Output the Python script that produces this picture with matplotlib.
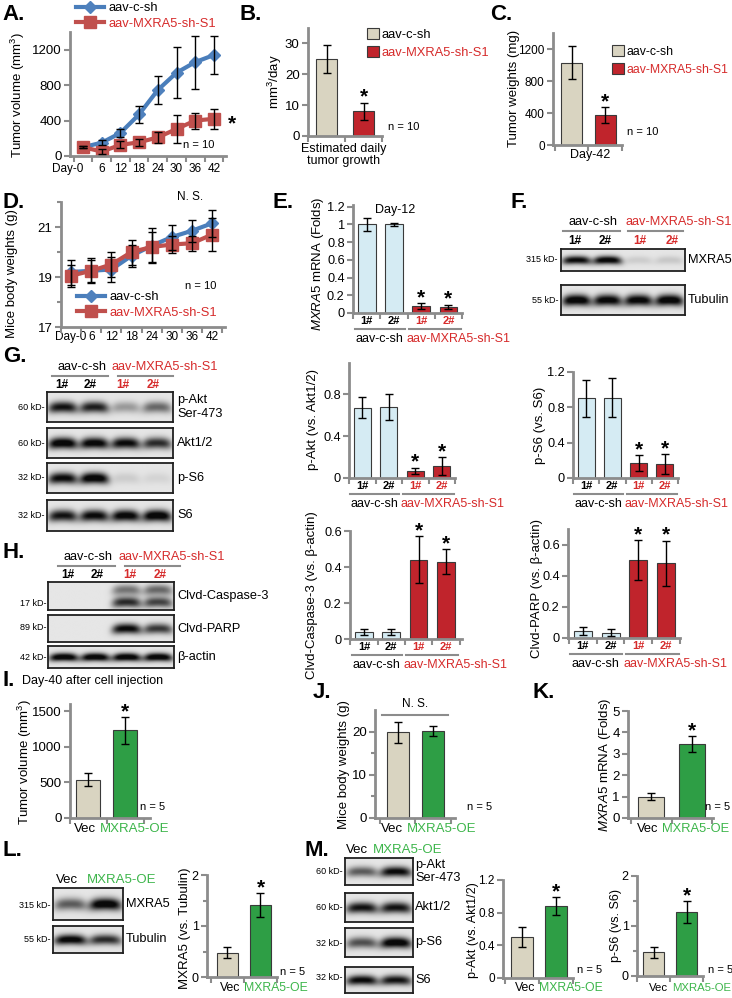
import numpy as np
import matplotlib
matplotlib.use("Agg")
import matplotlib.pyplot as plt
from matplotlib.lines import Line2D
from matplotlib.ticker import FuncFormatter
from matplotlib.transforms import blended_transform_factory

plt.rcParams["font.family"] = ["Liberation Sans", "DejaVu Sans"]
plt.rcParams["mathtext.fontset"] = "custom"
plt.rcParams["mathtext.rm"] = "Liberation Sans"
plt.rcParams["mathtext.it"] = "Liberation Sans:italic"

# ---- data -----------------------------------------------------------------
days = ["Day-0", "6", "12", "18", "24", "30", "36", "42"]
vol_ctrl = [100, 150, 260, 470, 745, 940, 1060, 1140]
vol_ctrl_err = [15, 30, 50, 95, 155, 290, 300, 210]
vol_kd = [100, 50, 125, 155, 210, 305, 400, 420]
vol_kd_err = [15, 25, 40, 40, 60, 160, 90, 115]

growth = [25.0, 8.0]
growth_err = [4.6, 2.8]
tumor_wt = [1030, 375]
tumor_wt_err = [205, 100]

bw_ctrl = [19.2, 19.25, 19.3, 19.85, 20.25, 20.6, 20.85, 21.15]
bw_ctrl_err = [0.5, 0.45, 0.5, 0.45, 0.7, 0.5, 0.45, 0.55]
bw_kd = [19.05, 19.25, 19.5, 20.0, 20.2, 20.3, 20.35, 20.7]
bw_kd_err = [0.45, 0.5, 0.5, 0.5, 0.6, 0.35, 0.3, 0.65]

lanes4 = ["1#", "2#", "1#", "2#"]
mrna = [1.0, 1.0, 0.08, 0.07]
mrna_err = [0.07, 0.02, 0.03, 0.025]
pakt = [0.67, 0.68, 0.07, 0.115]
pakt_err = [0.1, 0.125, 0.03, 0.085]
ps6 = [0.90, 0.91, 0.17, 0.16]
ps6_err = [0.21, 0.22, 0.09, 0.11]
casp = [0.04, 0.04, 0.44, 0.43]
casp_err = [0.015, 0.015, 0.13, 0.07]
parp = [0.045, 0.035, 0.50, 0.48]
parp_err = [0.025, 0.025, 0.13, 0.145]

oe_groups = ["Vec", "MXRA5-OE"]
oe_vol = [540, 1230]
oe_vol_err = [85, 190]
oe_bw = [19.8, 20.2]
oe_bw_err = [2.5, 1.2]
oe_mrna = [1.0, 3.45]
oe_mrna_err = [0.17, 0.37]
oe_mxra5 = [0.48, 1.41]
oe_mxra5_err = [0.1, 0.24]
oe_pakt = [0.50, 0.88]
oe_pakt_err = [0.12, 0.11]
oe_ps6 = [0.48, 1.28]
oe_ps6_err = [0.11, 0.22]

# blot band strengths per lane (0 = none, 1 = saturated)
blot_f_mxra5 = [0.9, 0.95, 0.1, 0.12]
blot_f_tub = [1.0, 0.95, 0.95, 1.0]
blot_g_pakt = [0.85, 0.8, 0.3, 0.5]
blot_g_akt = [1.0, 0.95, 0.9, 0.75]
blot_g_ps6 = [0.9, 1.0, 0.1, 0.07]
blot_g_s6 = [0.85, 0.9, 0.95, 1.0]
blot_h_casp_hi = [0.0, 0.0, 0.45, 0.5]
blot_h_casp_lo = [0.0, 0.0, 0.75, 0.65]
blot_h_parp = [0.0, 0.0, 0.9, 0.7]
blot_h_actin = [1.0, 1.0, 1.0, 1.0]
blot_l_mxra5 = [0.55, 1.0]
blot_l_tub = [0.95, 0.75]
blot_m_pakt = [0.55, 0.9]
blot_m_akt = [0.85, 0.85]
blot_m_ps6 = [0.6, 1.0]
blot_m_s6 = [0.9, 0.85]

# ---- theme ----------------------------------------------------------------
AXIS = "#8c8c8c"
BEIGE = "#d9d4c1"
DRED = "#c0242c"
LBLUE = "#d5ebf3"
GREEN = "#2e9e45"
RED_T = "#d62b2b"
GREEN_T = "#3cb54a"
LBLUE_LINE = "#4a7ebb"
LRED_LINE = "#c0504d"

W, H = 732, 998
fig = plt.figure(figsize=(W / 100, H / 100), dpi=100)


def px_axes(l, t, r, b):
    return fig.add_axes([l / W, 1 - b / H, (r - l) / W, (b - t) / H])


def ftext(x, y, s, **kw):
    kw.setdefault("ha", "left")
    kw.setdefault("va", "center")
    return fig.text(x / W, 1 - y / H, s, **kw)


def fline(x0, x1, y, color=AXIS, lw=1.5):
    fig.add_artist(Line2D([x0 / W, x1 / W], [1 - y / H] * 2, color=color, lw=lw))


def style_axes(ax, tick_size=9.5):
    for s in ("top", "right"):
        ax.spines[s].set_visible(False)
    for s in ("left", "bottom"):
        ax.spines[s].set_color(AXIS)
        ax.spines[s].set_linewidth(2)
    ax.tick_params(axis="y", which="both", direction="out", color=AXIS,
                   width=1.5, length=4, labelsize=tick_size, pad=2)
    ax.tick_params(axis="y", which="minor", length=3)
    ax.yaxis.set_major_formatter(FuncFormatter(lambda v, p: f"{v:g}"))
    ax.patch.set_alpha(0)


def cat_xlim(ax, box, c0, c1):
    sp = c1 - c0
    ax.set_xlim((box[0] - c0) / sp, (box[2] - c0) / sp)


def star(ax, x, y, dy=-3):
    ax.annotate("*", (x, y), xytext=(0, dy), textcoords="offset points",
                ha="center", va="bottom", fontsize=15, fontweight="bold",
                annotation_clip=False)


def bar_panel(box, c0, c1, vals, errs, colors, ylim, yticks, minor=None,
              width=0.65, labels=None, label_colors=None, label_size=9,
              stars=(), tick_size=9.5):
    ax = px_axes(*box)
    style_axes(ax, tick_size)
    x = np.arange(len(vals))
    ax.bar(x, vals, width=width, color=colors, edgecolor="#3a3a3a",
           linewidth=0.8, zorder=2)
    ax.errorbar(x, vals, yerr=errs, fmt="none", ecolor="black",
                elinewidth=1, capsize=3, capthick=1, zorder=3)
    cat_xlim(ax, box, c0, c1)
    ax.set_ylim(*ylim)
    ax.set_yticks(yticks)
    if minor is not None:
        ax.set_yticks(minor, minor=True)
    ax.set_xticks(np.arange(len(vals) + 1) - 0.5, minor=True)
    ax.set_xticks(x)
    if labels is None:
        ax.set_xticklabels([])
    else:
        ax.set_xticklabels(labels, fontsize=label_size)
        for t, c in zip(ax.get_xticklabels(), label_colors):
            t.set_color(c)
    ax.tick_params(axis="x", which="major", length=0, pad=2)
    ax.tick_params(axis="x", which="minor", length=4, direction="out",
                   color=AXIS, width=1.5)
    for i in stars:
        star(ax, x[i], vals[i] + errs[i])
    return ax


def oe_labels(x_split, y, size=9):
    # "Vec MXRA5-OE" typed as one line under the two bars
    ftext(x_split - 2, y, oe_groups[0], ha="right", fontsize=size)
    ftext(x_split + 2, y, oe_groups[1], ha="left", fontsize=size,
          color=GREEN_T)


def group_brackets(ax, box):
    hpx = box[3] - box[1]
    tr = blended_transform_factory(ax.transData, ax.transAxes)
    for x0, x1 in ((-0.45, 1.4), (1.55, 3.45)):
        ax.plot([x0, x1], [-16 / hpx] * 2, transform=tr, color=AXIS, lw=1.5,
                clip_on=False)
    ax.text(0.47, -26 / hpx, "aav-c-sh", transform=tr, ha="center",
            va="center", fontsize=9)
    ax.text(1.45, -26 / hpx, "aav-MXRA5-sh-S1", transform=tr, ha="left",
            va="center", fontsize=9, color=RED_T)


def four_lane(box, c0, c1, vals, errs, colors, ylim, yticks):
    ax = bar_panel(box, c0, c1, vals, errs, colors, ylim, yticks,
                   labels=lanes4, label_colors=["black", "black", RED_T, RED_T],
                   label_size=8, stars=(2, 3), tick_size=9.2)
    for t in ax.get_xticklabels():
        t.set_fontweight("bold")
    group_brackets(ax, box)
    return ax


def blot(box, bands, bg=0.9, sigma=0.19):
    ax = px_axes(*box)
    ny, nx = 60, 260
    yy, xx = np.mgrid[0:1:ny * 1j, 0:1:nx * 1j]
    dark = np.zeros((ny, nx))
    for yc, ints in bands:
        n = len(ints)
        for i, v in enumerate(ints):
            xc = (i + 0.5) / n
            hw = 0.46 / n
            u = (xx - xc) / hw
            dark += v * np.exp(-u ** 4) * \
                np.exp(-((yy - yc - 0.05 * u ** 2) / sigma) ** 2)
    img = bg * (1 - 0.96 * np.clip(dark * 1.15, 0, 1))
    ax.imshow(img, cmap="gray", vmin=0, vmax=1, aspect="auto",
              extent=(0, 1, 1, 0), interpolation="bilinear")
    ax.set_xticks([])
    ax.set_yticks([])
    for s in ax.spines.values():
        s.set_linewidth(1.3)
        s.set_color("#202020")
    return ax


def blot_stack(x0, x1, strips, kd_x, name_x):
    for t, b, kd, kd_y, name, bands in strips:
        blot((x0, t, x1, b), bands)
        ftext(kd_x, kd_y, kd, ha="right", fontsize=6.5)
        ftext(name_x, (t + b) / 2, name, fontsize=9.2, linespacing=1.15)


def sh_header(c_center, c_line, r_left, r_line, y, lane_x, lane_y):
    ftext(c_center, y, "aav-c-sh", ha="center", fontsize=9.2)
    ftext(r_left, y, "aav-MXRA5-sh-S1", fontsize=9.2, color=RED_T)
    fline(*c_line, y + 9)
    fline(*r_line, y + 9)
    for lx, s, c in zip(lane_x, lanes4, ["black", "black", RED_T, RED_T]):
        ftext(lx, lane_y, s, ha="center", fontsize=8.5, fontweight="bold",
              color=c)


def ylab(x, y, s, size=9.5):
    ftext(x, y, s, rotation=90, ha="center", va="center", fontsize=size)


def panel(x, y, s):
    ftext(x, y, s, fontsize=16, fontweight="bold")


def legend_kw(x, y):
    return dict(loc="upper left", bbox_to_anchor=(x / W, 1 - y / H),
                bbox_transform=fig.transFigure, frameon=False, fontsize=9.3,
                borderpad=0, borderaxespad=0)


def day_axis(ax, box, c0, c1, pad=3):
    cat_xlim(ax, box, c0, c1)
    xd = np.arange(len(days))
    ax.set_xticks(xd)
    ax.set_xticklabels(days, fontsize=8.5)
    ax.set_xticks(np.arange(len(days) + 1) - 0.5, minor=True)
    ax.tick_params(axis="x", which="major", length=0, pad=pad)
    ax.tick_params(axis="x", which="minor", length=4, color=AXIS, width=1.5)


# ---- A: tumor volume ------------------------------------------------------
boxA = (70, 32, 226, 156)
axA = px_axes(*boxA)
style_axes(axA)
xd = np.arange(len(days))
lA1, = axA.plot(xd, vol_ctrl, color=LBLUE_LINE, lw=3, marker="D", ms=6,
                mfc="#4f81bd", mec="#4f81bd", zorder=2)
lA2, = axA.plot(xd, vol_kd, color=LRED_LINE, lw=3, marker="s", ms=8,
                mfc=LRED_LINE, mec=LRED_LINE, zorder=2)
axA.errorbar(xd, vol_ctrl, yerr=vol_ctrl_err, fmt="none", ecolor="black",
             elinewidth=1, capsize=3, zorder=3)
axA.errorbar(xd, vol_kd, yerr=vol_kd_err, fmt="none", ecolor="black",
             elinewidth=1, capsize=3, zorder=3)
day_axis(axA, boxA, 83, 101.7, pad=5)
axA.get_xticklabels()[0].set_ha("right")
axA.set_ylim(0, 1400)
axA.set_yticks([0, 400, 800, 1200])
legA = axA.legend([lA1, lA2], ["aav-c-sh", "aav-MXRA5-sh-S1"],
                  handlelength=2.2, handletextpad=0.3, labelspacing=0.3,
                  **legend_kw(76, 2))
legA.get_texts()[1].set_color(RED_T)
ftext(183, 145, "n = 10", fontsize=8)
ftext(232, 124, "*", ha="center", fontsize=15, fontweight="bold")
ylab(18, 95, "Tumor volume (mm$^3$)")
panel(2, 15, "A.")

# ---- B: daily growth ------------------------------------------------------
boxB = (308, 28, 382, 136)
axB = bar_panel(boxB, 327, 367, growth, growth_err, [BEIGE, DRED], (0, 35),
                [0, 10, 20, 30], width=0.58, stars=(1,))
legB = axB.legend(axB.patches[:2], ["aav-c-sh", "aav-MXRA5-sh-S1"],
                  handlelength=0.9, handleheight=0.9, handletextpad=0.2,
                  labelspacing=0.4, **legend_kw(367, 28))
legB.get_texts()[1].set_color(RED_T)
ftext(388, 127, "n = 10", fontsize=8)
ftext(344, 155, "Estimated daily\ntumor growth", ha="center", fontsize=9,
      linespacing=1.1)
ylab(275, 82, "mm$^3$/day")
panel(240, 15, "B.")

# ---- C: tumor weights -----------------------------------------------------
boxC = (553, 33, 622, 145)
axC = bar_panel(boxC, 572, 606, tumor_wt, tumor_wt_err, [BEIGE, DRED],
                (0, 1400), [0, 400, 800, 1200], width=0.63, stars=(1,),
                tick_size=8.5)
legC = axC.legend(axC.patches[:2], ["aav-c-sh", "aav-MXRA5-sh-S1"],
                  handlelength=0.9, handleheight=0.9, handletextpad=0.2,
                  labelspacing=0.4, **legend_kw(612, 45))
legC.get_texts()[1].set_color(RED_T)
for t in legC.get_texts():
    t.set_fontsize(8.8)
ftext(627, 132, "n = 10", fontsize=8)
ftext(590, 155, "Day-42", ha="center", fontsize=9)
ylab(514, 88, "Tumor weights (mg)")
panel(490, 15, "C.")

# ---- D: body weights ------------------------------------------------------
boxD = (61, 202, 225, 327)
axD = px_axes(*boxD)
style_axes(axD)
lD1, = axD.plot(xd, bw_ctrl, color=LBLUE_LINE, lw=3, marker="D", ms=6,
                mfc="#4f81bd", mec="#4f81bd", zorder=2)
lD2, = axD.plot(xd, bw_kd, color=LRED_LINE, lw=3, marker="s", ms=8,
                mfc=LRED_LINE, mec=LRED_LINE, zorder=2)
axD.errorbar(xd, bw_ctrl, yerr=bw_ctrl_err, fmt="none", ecolor="black",
             elinewidth=1, capsize=3, zorder=3)
axD.errorbar(xd, bw_kd, yerr=bw_kd_err, fmt="none", ecolor="black",
             elinewidth=1, capsize=3, zorder=3)
day_axis(axD, boxD, 70, 90.3)
axD.set_ylim(17, 22)
axD.set_yticks([17, 19, 21])
axD.set_yticks([18, 20, 22], minor=True)
legD = axD.legend([lD1, lD2], ["aav-c-sh", "aav-MXRA5-sh-S1"],
                  handlelength=2.2, handletextpad=0.3, labelspacing=0.3,
                  **legend_kw(77, 291))
legD.get_texts()[1].set_color(RED_T)
ftext(190, 197, "N. S.", ha="center", fontsize=8.5)
ftext(185, 286, "n = 10", fontsize=8)
ylab(12, 274, "Mice body weights (g)")
panel(2, 202, "D.")

# ---- E: MXRA5 mRNA --------------------------------------------------------
boxE = (353, 205, 462, 313)
four_lane(boxE, 367, 394.7, mrna, mrna_err, [LBLUE] * 2 + [DRED] * 2,
          (0, 1.22), [0, 0.2, 0.4, 0.6, 0.8, 1.0, 1.2])
ftext(395, 210, "Day-12", ha="center", fontsize=9)
ylab(318, 264, r"$\mathit{MXRA5}$ mRNA (Folds)")
panel(273, 202, "E.")

# ---- F: blot --------------------------------------------------------------
sh_header(593, (563, 620), 625, (628, 683), 222, [575, 605, 640, 672], 241)
blot_stack(561, 685, [
    (249, 271, "315 kD-", 260, "MXRA5", [(0.5, blot_f_mxra5)]),
    (285, 315, "55 kD-", 300, "Tubulin", [(0.5, blot_f_tub)]),
], 558, 688)
panel(510, 202, "F.")

# ---- G: blots + quantification -------------------------------------------
sh_header(82, (52, 108), 112, (118, 173), 367, [62, 90, 123, 153], 385)
blot_stack(47, 173, [
    (392, 422, "60 kD-", 407, "p-Akt\nSer-473", [(0.5, blot_g_pakt)]),
    (428, 458, "60 kD-", 443, "Akt1/2", [(0.5, blot_g_akt)]),
    (463, 493, "32 kD-", 478, "p-S6", [(0.5, blot_g_ps6)]),
    (500, 531, "32 kD-", 515, "S6", [(0.5, blot_g_s6)]),
], 45, 177)
panel(3, 357, "G.")

boxGa = (349, 363, 455, 478)
four_lane(boxGa, 362, 388.7, pakt, pakt_err, [LBLUE] * 2 + [DRED] * 2,
          (0, 1.1), [0, 0.4, 0.8])
ylab(313, 420, "p-Akt (vs. Akt1/2)")
boxGb = (573, 372, 678, 478)
four_lane(boxGb, 585, 612, ps6, ps6_err, [LBLUE] * 2 + [DRED] * 2,
          (0, 1.2), [0, 0.4, 0.8, 1.2])
ylab(540, 425, "p-S6 (vs. S6)")

# ---- H: apoptosis blots + quantification ---------------------------------
sh_header(88, (58, 115), 118, (125, 180), 557, [68, 97, 130, 160], 575)
blot_stack(48, 174, [
    (582, 610, "17 kD-", 603, "Clvd-Caspase-3",
     [(0.27, blot_h_casp_hi), (0.72, blot_h_casp_lo)]),
    (615, 642, "89 kD-", 628, "Clvd-PARP", [(0.5, blot_h_parp)]),
    (646, 668, "42 kD-", 657, "β-actin", [(0.5, blot_h_actin)]),
], 46, 177)
panel(3, 553, "H.")

boxHa = (350, 531, 462, 639)
four_lane(boxHa, 364, 391.3, casp, casp_err, [LBLUE] * 2 + [DRED] * 2,
          (0, 0.6), [0, 0.2, 0.4, 0.6])
ylab(312, 595, "Clvd-Caspase-3 (vs. β-actin)")
boxHb = (568, 529, 680, 638)
four_lane(boxHb, 583, 611, parp, parp_err, [LBLUE] * 2 + [DRED] * 2,
          (0, 0.7), [0, 0.2, 0.4, 0.6])
ylab(537, 588, "Clvd-PARP (vs. β-actin)")

# ---- I, J, K: overexpression ---------------------------------------------
oe_colors = [BEIGE, GREEN]

boxI = (70, 704, 150, 818)
bar_panel(boxI, 88, 125, oe_vol, oe_vol_err, oe_colors, (0, 1600),
          [0, 500, 1000, 1500], stars=(1,))
oe_labels(98, 829, 9.5)
ftext(140, 807, "n = 5", fontsize=8)
ylab(25, 762, "Tumor volume (mm$^3$)")
panel(3, 680, "I.")
ftext(22, 681, "Day-40 after cell injection", fontsize=9)

boxJ = (375, 710, 455, 818)
bar_panel(boxJ, 398, 433, oe_bw, oe_bw_err, oe_colors, (0, 25), [0, 10, 20],
          minor=[5, 15])
oe_labels(405, 829, 9.5)
fline(382, 448, 715)
ftext(415, 704, "N. S.", ha="center", fontsize=8.5)
ftext(467, 807, "n = 5", fontsize=8)
ylab(344, 765, "Mice body weights (g)")
panel(313, 693, "J.")

boxK = (628, 711, 713, 818)
bar_panel(boxK, 651, 692, oe_mrna, oe_mrna_err, oe_colors, (0, 5),
          [0, 1, 2, 3, 4, 5], stars=(1,))
oe_labels(660, 829, 9.3)
ftext(705, 807, "n = 5", fontsize=8)
ylab(605, 765, r"$\mathit{MXRA5}$ mRNA (Folds)")
panel(533, 693, "K.")

# ---- L --------------------------------------------------------------------
ftext(67, 880, "Vec", ha="center", fontsize=9.5)
ftext(122, 880, "MXRA5-OE", ha="center", fontsize=9.5, color=GREEN_T)
blot_stack(53, 123, [
    (888, 920, "315 kD-", 905, "MXRA5", [(0.5, blot_l_mxra5)]),
    (926, 953, "55 kD-", 940, "Tubulin", [(0.5, blot_l_tub)]),
], 50, 126)
boxL = (207, 875, 277, 977)
bar_panel(boxL, 228, 262, oe_mxra5, oe_mxra5_err, oe_colors, (0, 2),
          [0, 1, 2], minor=[0.5, 1.5], stars=(1,), tick_size=9)
oe_labels(242, 988, 8.8)
ftext(280, 972, "n = 5", fontsize=8)
ylab(185, 928, "MXRA5 (vs. Tubulin)")
panel(2, 850, "L.")

# ---- M --------------------------------------------------------------------
ftext(357, 850, "Vec", ha="center", fontsize=9.5)
ftext(408, 850, "MXRA5-OE", ha="center", fontsize=9.5, color=GREEN_T)
blot_stack(345, 413, [
    (858, 885, "60 kD-", 872, "p-Akt\nSer-473", [(0.5, blot_m_pakt)]),
    (893, 922, "60 kD-", 908, "Akt1/2", [(0.5, blot_m_akt)]),
    (928, 957, "32 kD-", 943, "p-S6", [(0.5, blot_m_ps6)]),
    (967, 993, "32 kD-", 978, "S6", [(0.5, blot_m_s6)]),
], 343, 415)
boxMa = (503, 880, 573, 978)
bar_panel(boxMa, 523, 559, oe_pakt, oe_pakt_err, oe_colors, (0, 1.2),
          [0, 0.4, 0.8, 1.2], stars=(1,), tick_size=8.5)
oe_labels(537, 988, 8.8)
ftext(577, 970, "n = 5", fontsize=8)
ylab(473, 930, "p-Akt (vs. Akt1/2)", size=9)
boxMb = (637, 876, 703, 976)
bar_panel(boxMb, 652, 686, oe_ps6, oe_ps6_err, oe_colors, (0, 2),
          [0, 1, 2], minor=[0.5, 1.5], stars=(1,), tick_size=9)
oe_labels(670, 988, 8.2)
ftext(708, 970, "n = 5", fontsize=8)
ylab(616, 925, "p-S6 (vs. S6)", size=9)
panel(305, 850, "M.")

fig.savefig("out.png", dpi=100)
